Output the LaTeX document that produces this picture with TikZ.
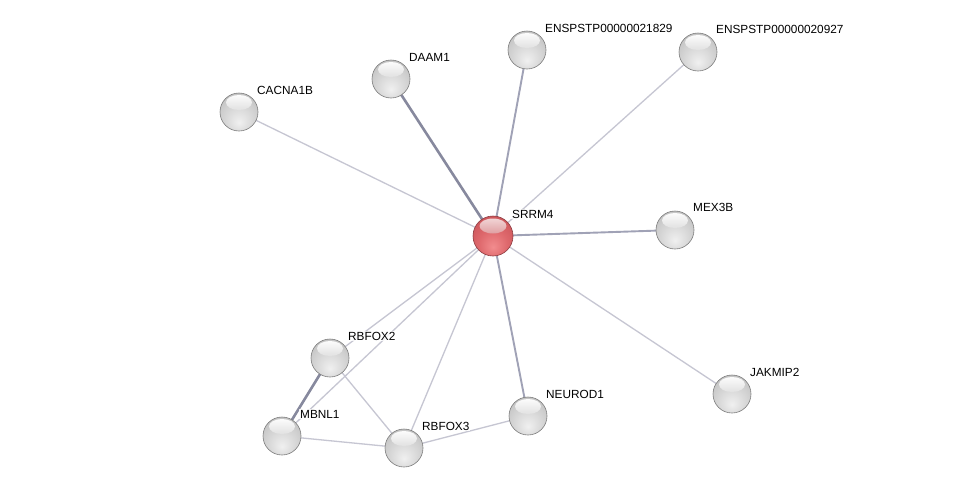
\documentclass[tikz,border=0pt]{standalone}
\usepackage{fontspec}
\setmainfont{Liberation Sans}
\usetikzlibrary{backgrounds}
\definecolor{gA}{RGB}{240,240,240}
\definecolor{gB}{RGB}{215,215,215}
\definecolor{gC}{RGB}{188,188,188}
\definecolor{gD}{RGB}{150,150,150}
\definecolor{rA}{RGB}{242,140,142}
\definecolor{rB}{RGB}{222,104,108}
\definecolor{rC}{RGB}{198,80,85}
\definecolor{rD}{RGB}{160,58,62}
\pgfdeclareradialshading{gsphere}{\pgfpoint{0bp}{-14bp}}{color(0bp)=(gA); color(18bp)=(gB); color(38bp)=(gC); color(58bp)=(gD); color(70bp)=(gD)}
\pgfdeclareradialshading{rsphere}{\pgfpoint{0bp}{-14bp}}{color(0bp)=(rA); color(18bp)=(rB); color(38bp)=(rC); color(58bp)=(rD); color(70bp)=(rD)}
\begin{document}
\begin{tikzpicture}[x=1pt,y=-1pt,
  ball/.style={circle,minimum size=38pt,inner sep=0pt,shading=gsphere,draw={rgb,255:red,125;green,125;blue,125},line width=0.6pt,
    path picture={\shade[top color=white,bottom color=gC] ([yshift=9.5pt]path picture bounding box.center) ellipse (13pt and 7.5pt);}},
  redball/.style={circle,minimum size=40pt,inner sep=0pt,shading=rsphere,draw={rgb,255:red,140;green,60;blue,65},line width=0.6pt,
    path picture={\shade[top color=white!80!rC,bottom color=rC] ([yshift=10pt]path picture bounding box.center) ellipse (13.5pt and 7.5pt);}},
  lbl/.style={font=\fontsize{11.8}{13}\selectfont,anchor=west,inner sep=1pt,fill=white,fill opacity=0.8,text opacity=1},
  e1/.style={draw={rgb,255:red,198;green,198;blue,210},line width=1.3pt},
  e2/.style={draw={rgb,255:red,160;green,162;blue,182},line width=1.9pt},
  e3/.style={draw={rgb,255:red,135;green,137;blue,158},line width=2.6pt}]
\useasboundingbox (0,0) rectangle (975,493);
% nodes
\node[ball] (daam) at (391,79) {};
\node[ball] (e21829) at (527,50) {};
\node[ball] (e20927) at (698,52) {};
\node[ball] (cacna) at (239,112) {};
\node[ball] (mex) at (675,230) {};
\node[ball] (jak) at (732,394) {};
\node[ball] (neu) at (528,416) {};
\node[ball] (rb3) at (404,448) {};
\node[ball] (rb2) at (330,358) {};
\node[ball] (mbnl) at (282,436) {};
\node[redball] (srrm) at (493,236) {};
% edges
\begin{scope}[on background layer]
\fill[white] (0,0) rectangle (975,493);
\path[e3] (srrm.center) -- (daam.center);
\path[e2] (srrm.center) -- (e21829.center);
\path[e1] (srrm.center) -- (e20927.center);
\path[e1] (srrm.center) -- (cacna.center);
\path[e2] (srrm.center) -- (mex.center);
\path[e1] (srrm.center) -- (jak.center);
\path[e2] (srrm.center) -- (neu.center);
\path[e1] (srrm.center) -- (rb3.center);
\path[e1] (srrm.center) -- (rb2.center);
\path[e1] (srrm.center) -- (mbnl.center);
\path[e3] (rb2.center) -- (mbnl.center);
\path[e1] (rb2.center) -- (rb3.center);
\path[e1] (mbnl.center) -- (rb3.center);
\path[e1] (rb3.center) -- (neu.center);
\end{scope}
% labels
\node[lbl] (l1) at (408,57) {DAAM1};
\node[lbl] (l2) at (544,28) {ENSPSTP00000021829};
\node[lbl] (l3) at (715,29) {ENSPSTP00000020927};
\node[lbl] (l4) at (256,90) {CACNA1B};
\node[lbl] (l5) at (692,207) {MEX3B};
\node[lbl] (l6) at (749,372) {JAKMIP2};
\node[lbl] (l7) at (545,394) {NEUROD1};
\node[lbl] (l8) at (421,426) {RBFOX3};
\node[lbl] (l9) at (347,336) {RBFOX2};
\node[lbl] (l10) at (299,414) {MBNL1};
\node[lbl] (l11) at (511,214) {SRRM4};
\end{tikzpicture}
\end{document}
